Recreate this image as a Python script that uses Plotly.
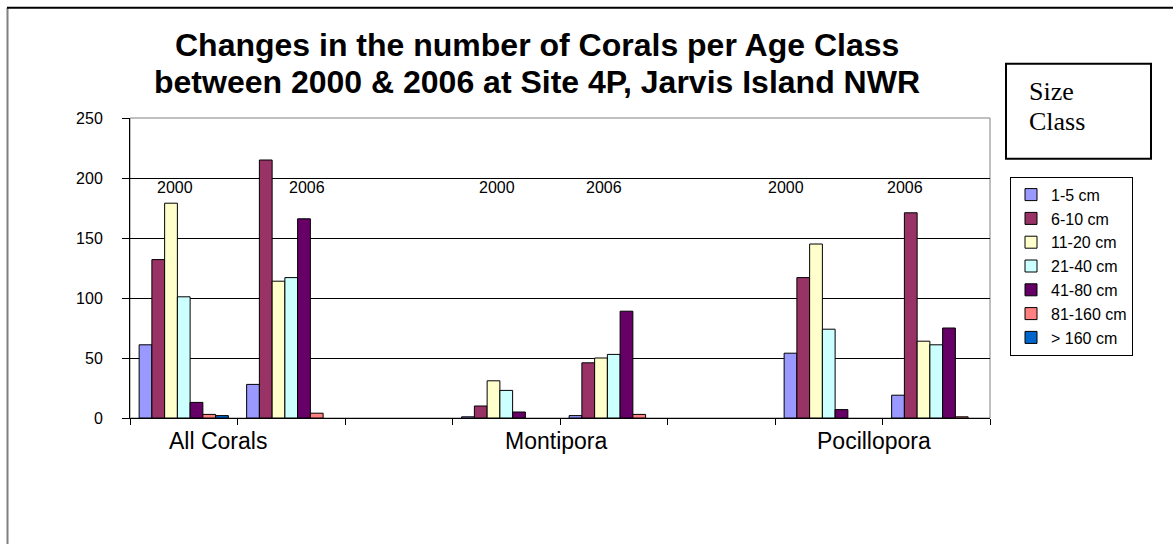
import plotly.graph_objects as go

# ---- data ----
slots = ["All Corals 2000", "All Corals 2006", "gap1",
         "Montipora 2000", "Montipora 2006", "gap2",
         "Pocillopora 2000", "Pocillopora 2006"]
size_classes = ["1-5 cm", "6-10 cm", "11-20 cm", "21-40 cm", "41-80 cm", "81-160 cm", "> 160 cm"]
v_1_5 = [61, 28, None, 1, 2, None, 54, 19]
v_6_10 = [132, 215, None, 10, 46, None, 117, 171]
v_11_20 = [179, 114, None, 31, 50, None, 145, 64]
v_21_40 = [101, 117, None, 23, 53, None, 74, 61]
v_41_80 = [13, 166, None, 5, 89, None, 7, 75]
v_81_160 = [3, 4, None, 0, 3, None, 0, 1]
v_160 = [2, 0, None, 0, 0, None, 0, 0]
series = [v_1_5, v_6_10, v_11_20, v_21_40, v_41_80, v_81_160, v_160]
group_names = ["All Corals", "Montipora", "Pocillopora"]
year_labels = ["2000", "2006", "2000", "2006", "2000", "2006"]
title_lines = ["Changes in the number of Corals per Age Class",
               "between 2000 &amp; 2006 at Site 4P, Jarvis Island NWR"]
y_ticks = [0, 50, 100, 150, 200, 250]

colors = ["#9999FF", "#993366", "#FFFFCC", "#CCFFFF", "#660066", "#FF8080", "#0066CC"]
FONT = "Liberation Sans, Arial, sans-serif"
SERIF = "Liberation Serif, Times New Roman, serif"

x_idx = list(range(len(slots)))

fig = go.Figure()
for name, vals, col in zip(size_classes, series, colors):
    fig.add_trace(go.Bar(
        x=x_idx, y=[None if v == 0 else v for v in vals], name=name,
        marker=dict(color=col, line=dict(color="black", width=1)),
        legendgroup=name,
    ))

# plot area px: x 130..990, y 118.3..418.3
L, R, T, B = 130, 990, 118.3, 418.3
W, H = R - L, B - T
def px(xp): return (xp - L) / W
def py(yp): return (B - yp) / H

annotations = []
# title (two lines)
for t, yp in zip(title_lines, [45, 82]):
    annotations.append(dict(
        text="<b>" + t + "</b>", xref="paper", yref="paper", x=px(537), y=py(yp),
        xanchor="center", yanchor="middle", showarrow=False,
        font=dict(family=FONT, size=32, color="black")))
# year labels
year_x = [-0.083, 1.150, 2.911, 3.911, 5.598, 6.710]
for xv, t in zip(year_x, year_labels):
    annotations.append(dict(text=t, x=xv, y=192, xref="x", yref="y", showarrow=False,
                            font=dict(family=FONT, size=16, color="black")))
# group labels
group_x = [0.316, 3.467, 6.423]
for xv, t in zip(group_x, group_names):
    annotations.append(dict(text=t, x=xv, y=py(441), xref="x", yref="paper", showarrow=False,
                            xanchor="center", yanchor="middle",
                            font=dict(family=FONT, size=23, color="black")))
# Size Class box text
for t, yp in zip(["Size", "Class"], [92, 122]):
    annotations.append(dict(text=t, xref="paper", yref="paper", x=px(1027), y=py(yp),
                            xanchor="left", yanchor="middle", showarrow=False,
                            font=dict(family=SERIF, size=26, color="black")))

shapes = [
    # plot area border (gray)
    dict(type="rect", xref="paper", yref="paper", x0=0, x1=1, y0=0, y1=1,
         line=dict(color="#808080", width=1), layer="below"),
    # Size Class box
    dict(type="rect", xref="paper", yref="paper", x0=px(1006), x1=px(1151), y0=py(159), y1=py(64),
         line=dict(color="black", width=2)),
    # outer chart border: left and top
    dict(type="line", xref="paper", yref="paper", x0=px(7.5), x1=px(7.5), y0=py(8), y1=py(560),
         line=dict(color="#808080", width=2)),
    dict(type="line", xref="paper", yref="paper", x0=px(7), x1=px(1180), y0=py(8), y1=py(8),
         line=dict(color="black", width=2)),
]

fig.update_layout(
    width=1173, height=544,
    margin=dict(l=L, r=1173 - R, t=T, b=544 - B, pad=0),
    paper_bgcolor="white", plot_bgcolor="white",
    barmode="group", bargap=0.17, bargroupgap=0,
    font=dict(family=FONT, size=16, color="black"),
    showlegend=True,
    legend=dict(x=px(1010), y=py(177), xanchor="left", yanchor="top",
                bordercolor="black", borderwidth=1, bgcolor="white",
                font=dict(family=FONT, size=16, color="black"),
                tracegroupgap=5, traceorder="normal"),
    annotations=annotations, shapes=shapes,
)
fig.update_xaxes(range=[-0.5, 7.5], tickvals=[i - 0.5 for i in range(9)], ticktext=[""] * 9,
                 ticks="outside", ticklen=6, tickcolor="black", showline=True, linecolor="black",
                 linewidth=1, showgrid=False, zeroline=False, fixedrange=True)
fig.update_yaxes(range=[0, 250], tickvals=y_ticks, ticks="outside", ticklen=7, tickcolor="black",
                 showline=True, linecolor="black", linewidth=1, showgrid=True, gridcolor="black",
                 gridwidth=1, zeroline=False, tickfont=dict(family=FONT, size=16, color="black"),
                 ticklabelstandoff=16)

fig.write_html("out.html")
